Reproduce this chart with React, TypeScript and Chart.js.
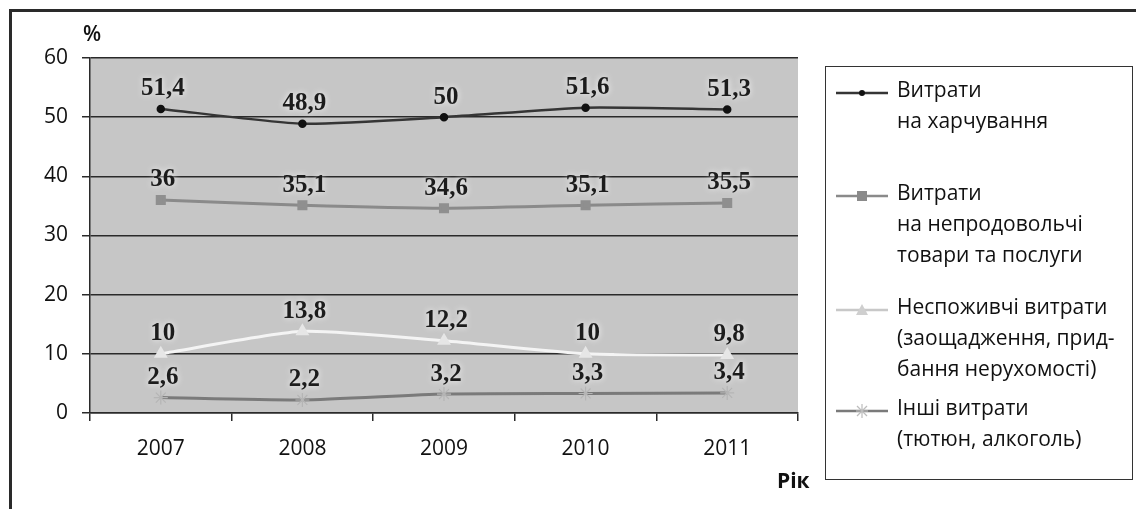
import React, { useEffect, useRef } from "react";
import { Chart, registerables } from "chart.js";

Chart.register(...registerables);

const years = ["2007", "2008", "2009", "2010", "2011"];
const foodValues = [51.4, 48.9, 50, 51.6, 51.3];
const nonFoodValues = [36, 35.1, 34.6, 35.1, 35.5];
const nonConsumerValues = [10, 13.8, 12.2, 10, 9.8];
const otherValues = [2.6, 2.2, 3.2, 3.3, 3.4];
const yTickValues = [0, 10, 20, 30, 40, 50, 60];

const foodLabel = ["Витрати", "на харчування"];
const nonFoodLabel = ["Витрати", "на непродовольчі", "товари та послуги"];
const nonConsumerLabel = ["Неспоживчі витрати", "(заощадження, прид-", "бання нерухомості)"];
const otherLabel = ["Інші витрати", "(тютюн, алкоголь)"];

const SANS = '"Open Sans", "Noto Sans", sans-serif';

const bgPlugin = {
  id: "plotBg",
  beforeDraw(chart: any) {
    const { ctx, chartArea } = chart;
    ctx.save();
    ctx.fillStyle = "#c6c6c6";
    ctx.fillRect(chartArea.left, chartArea.top, chartArea.right - chartArea.left, chartArea.bottom - chartArea.top);
    ctx.restore();
  },
};

const labelPlugin = {
  id: "valueLabels",
  afterDatasetsDraw(chart: any) {
    const { ctx } = chart;
    ctx.save();
    ctx.font = 'bold 25px "Liberation Serif", "DejaVu Serif", serif';
    ctx.textAlign = "center";
    ctx.textBaseline = "middle";
    chart.data.datasets.forEach((ds: any, i: number) => {
      const meta = chart.getDatasetMeta(i);
      meta.data.forEach((pt: any, j: number) => {
        const v = ds.data[j];
        const txt = String(v).replace(".", ",");
        ctx.shadowColor = "rgba(255,255,255,0.9)";
        ctx.shadowBlur = 6;
        ctx.fillStyle = "#1c1c1c";
        ctx.fillText(txt, pt.x + 2, pt.y - 20);
      });
    });
    ctx.restore();
  },
};

function Marker({ kind, color }: { kind: string; color: string }) {
  let m: any = null;
  if (kind === "circle") m = <circle cx={26} cy={8} r={3} fill="#111" />;
  if (kind === "rect") m = <rect x={21} y={3} width={10} height={10} fill="#8a8a8a" />;
  if (kind === "triangle") m = <polygon points="26,2 32,13 20,13" fill="#cfcfcf" />;
  if (kind === "star")
    m = (
      <g stroke="#bdbdbd" strokeWidth={1.2}>
        <line x1={26} y1={1} x2={26} y2={15} />
        <line x1={20} y1={8} x2={32} y2={8} />
        <line x1={21} y1={3} x2={31} y2={13} />
        <line x1={31} y1={3} x2={21} y2={13} />
      </g>
    );
  return (
    <svg width={52} height={16} style={{ position: "absolute", left: 0, top: 0 }}>
      <line x1={0} y1={8} x2={52} y2={8} stroke={color} strokeWidth={2.5} />
      {m}
    </svg>
  );
}

export default function App() {
  const ref = useRef<HTMLCanvasElement>(null);

  useEffect(() => {
    if (!ref.current) return;
    const common = { fill: false, tension: 0.2, borderWidth: 3 };
    const chart = new Chart(ref.current, {
      type: "line",
      data: {
        labels: years,
        datasets: [
          {
            ...common,
            label: foodLabel.join(" "),
            data: foodValues,
            borderColor: "#353535",
            borderWidth: 2.5,
            pointStyle: "circle",
            pointRadius: 3,
            pointBackgroundColor: "#111",
            pointBorderColor: "#111",
          },
          {
            ...common,
            label: nonFoodLabel.join(" "),
            data: nonFoodValues,
            borderColor: "#8a8a8a",
            pointStyle: "rect",
            pointRadius: 5,
            pointBackgroundColor: "#8f8f8f",
            pointBorderColor: "#8f8f8f",
          },
          {
            ...common,
            label: nonConsumerLabel.join(" "),
            data: nonConsumerValues,
            borderColor: "#f4f4f4",
            pointStyle: "triangle",
            pointRadius: 5,
            pointBackgroundColor: "#e6e6e6",
            pointBorderColor: "#e6e6e6",
          },
          {
            ...common,
            label: otherLabel.join(" "),
            data: otherValues,
            borderColor: "#7a7a7a",
            pointStyle: "star",
            pointRadius: 7,
            pointBorderWidth: 1.2,
            pointBackgroundColor: "#b5b5b5",
            pointBorderColor: "#b5b5b5",
          },
        ],
      },
      options: {
        animation: false,
        responsive: false,
        devicePixelRatio: 1,
        layout: { padding: { left: 0, top: 58, right: 338, bottom: 0 } },
        plugins: { legend: { display: false }, tooltip: { enabled: false } },
        scales: {
          x: {
            type: "category",
            offset: true,
            afterFit: (s: any) => {
              s.height = 96;
            },
            grid: {
              offset: true,
              drawOnChartArea: false,
              drawTicks: true,
              tickLength: 8,
              color: "#2a2a2a",
              lineWidth: 1.5,
            },
            border: { display: true, color: "#2a2a2a", width: 1.5 },
            ticks: {
              color: "#111",
              padding: 15,
              font: { family: SANS, size: 21 },
            },
          },
          y: {
            min: 0,
            max: 60,
            afterFit: (s: any) => {
              s.width = 90;
            },
            afterBuildTicks: (s: any) => {
              s.ticks = yTickValues.map((v) => ({ value: v }));
            },
            grid: {
              drawTicks: true,
              tickLength: 8,
              color: "#2a2a2a",
              lineWidth: 1.5,
            },
            border: { display: true, color: "#2a2a2a", width: 1.5 },
            ticks: {
              color: "#111",
              padding: 14,
              font: { family: SANS, size: 21 },
            },
          },
        },
      },
      plugins: [bgPlugin, labelPlugin],
    } as any);
    return () => chart.destroy();
  }, []);

  const legendEntries = [
    { lines: foodLabel, kind: "circle", color: "#353535", top: 90 },
    { lines: nonFoodLabel, kind: "rect", color: "#8a8a8a", top: 193 },
    { lines: nonConsumerLabel, kind: "triangle", color: "#c8c8c8", top: 307 },
    { lines: otherLabel, kind: "star", color: "#7a7a7a", top: 408 },
  ];

  return (
    <div
      style={{
        position: "absolute",
        left: 0,
        top: 0,
        width: 1136,
        height: 509,
        background: "#fff",
        overflow: "hidden",
        fontFamily: SANS,
        color: "#111",
      }}
    >
      <canvas ref={ref} width={1136} height={509} style={{ position: "absolute", left: 0, top: 0 }} />
      <div
        style={{
          position: "absolute",
          left: 9,
          top: 9,
          width: 1140,
          height: 520,
          borderTop: "3px solid #2a2a2a",
          borderLeft: "3px solid #2a2a2a",
          pointerEvents: "none",
        }}
      />
      <div style={{ position: "absolute", left: 83, top: 20, fontSize: 21, lineHeight: "26px", fontWeight: 600 }}>%</div>
      <div style={{ position: "absolute", left: 777, top: 467, fontSize: 21, lineHeight: "26px", fontWeight: 700 }}>Рік</div>
      <div
        style={{
          position: "absolute",
          left: 825,
          top: 66,
          width: 306,
          height: 412,
          border: "1.5px solid #333",
          background: "#fff",
        }}
      />
      {legendEntries.map((e, i) => (
        <React.Fragment key={i}>
          <div style={{ position: "absolute", left: 836, top: e.top - 5, width: 52, height: 16 }}>
            <Marker kind={e.kind} color={e.color} />
          </div>
          <div
            style={{
              position: "absolute",
              left: 897,
              top: e.top - 16,
              fontSize: 21,
              lineHeight: "31px",
              whiteSpace: "nowrap",
            }}
          >
            {e.lines.map((l, k) => (
              <div key={k}>{l}</div>
            ))}
          </div>
        </React.Fragment>
      ))}
    </div>
  );
}
